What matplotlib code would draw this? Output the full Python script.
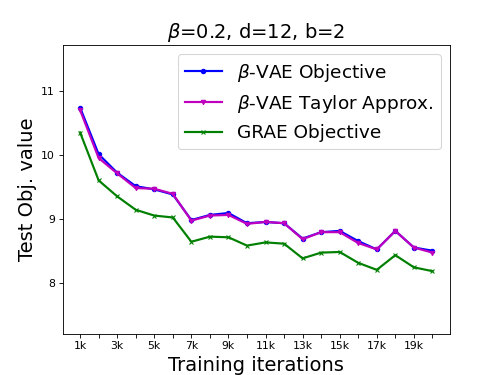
import matplotlib.pyplot as plt

# test objective over training, beta=0.2, d=12, b=2
iters = list(range(1, 21))
tick_labels = ['%dk' % i if i % 2 == 1 else '' for i in iters]

beta_vae = [10.74, 10.01, 9.72, 9.51, 9.46, 9.38, 8.98, 9.06, 9.09, 8.93,
            8.95, 8.93, 8.69, 8.79, 8.81, 8.65, 8.52, 8.81, 8.55, 8.50]
taylor = [10.70, 9.95, 9.71, 9.48, 9.47, 9.39, 8.97, 9.05, 9.06, 8.92,
          8.95, 8.93, 8.68, 8.79, 8.79, 8.62, 8.52, 8.81, 8.55, 8.47]
grae = [10.35, 9.60, 9.35, 9.14, 9.05, 9.02, 8.64, 8.72, 8.71, 8.58,
        8.63, 8.61, 8.38, 8.47, 8.48, 8.31, 8.20, 8.43, 8.24, 8.18]

fig = plt.figure(figsize=(6.4, 4.8), dpi=78.125)
ax = fig.add_subplot(111)

ax.plot(iters, beta_vae, 'b-', marker='o', markersize=4, linewidth=2, label=r'$\beta$-VAE Objective')
ax.plot(iters, taylor, 'm-', marker='v', markersize=4, linewidth=2, label=r'$\beta$-VAE Taylor Approx.')
ax.plot(iters, grae, 'g-', marker='x', markersize=4, linewidth=2, label='GRAE Objective')

ax.set_xticks(iters)
ax.set_xticklabels(tick_labels)
ax.set_ylim(7.2, 11.72)
ax.set_yticks([8, 9, 10, 11])

ax.set_xlabel('Training iterations', fontsize=18)
ax.set_ylabel('Test Obj. value', fontsize=18)
ax.set_title(r'$\beta$=0.2, d=12, b=2', fontsize=18)
ax.legend(loc='upper right', fontsize=17)

plt.savefig('out.png', dpi=78.125)
